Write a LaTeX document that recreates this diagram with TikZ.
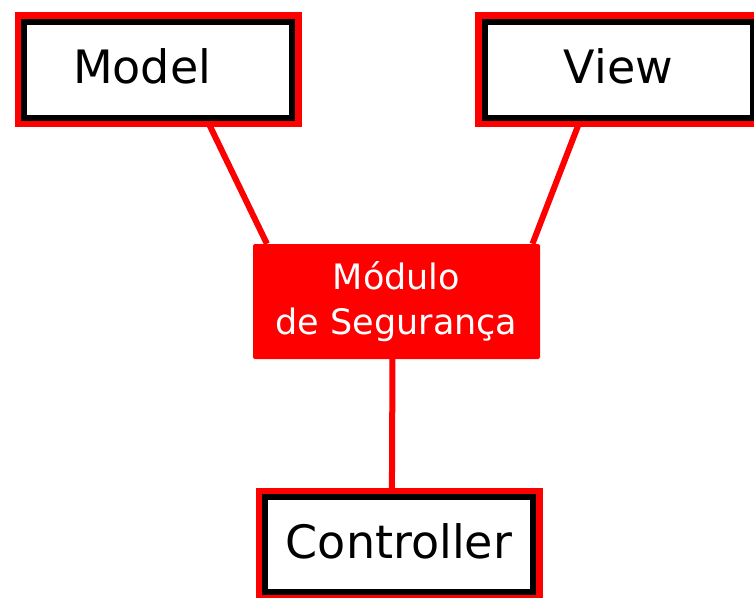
\documentclass[tikz,border=0pt]{standalone}
\usepackage{fontspec}
\setmainfont{DejaVu Sans}
\usetikzlibrary{backgrounds}

\tikzset{
	Box/.style = {draw = black, line width = 6pt, fill = white,
		preaction = {draw = red, line width = 19pt},
		minimum width = 268pt, minimum height = 96pt, inner sep = 0pt,
		text height = 33pt, text depth = 6pt,
		font = \fontsize{46}{54}\selectfont},
	SecBox/.style = {fill = red, text = white, rounded corners = 2pt,
		minimum width = 287pt, minimum height = 115pt, align = center,
		font = \fontsize{35}{45}\selectfont},
	Link/.style = {draw = red, line width = 6pt}
}

\begin{document}
\begin{tikzpicture}[x=1pt, y=-1pt]
				%\draw[help lines] (0,0) grid (754,597);
				\useasboundingbox (0,0) rectangle (754,597);
				
				\node[Box, text width = 170pt, align = left] (model) at (158,69.5) {Model};
				\node[Box] (view) at (618.5,69.5) {View};
				\node[SecBox] (sec) at (396.5,301.5) {Módulo\\de Segurança};
				\node[Box, minimum height = 95pt] (ctrl) at (399,544.5) {Controller};
				
				\begin{scope}[on background layer]
				\draw[Link] (model.-46) -- (sec.156.9);
				\draw[Link] (view.233.2) -- (sec.23);
				\draw[Link] (sec.-94.5) -- (ctrl.98.4);
				\end{scope}
\end{tikzpicture}
\end{document}
